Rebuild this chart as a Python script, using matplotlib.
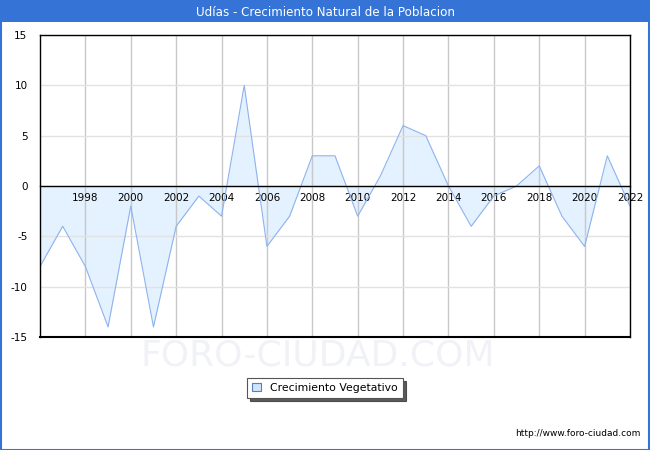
import numpy as np
import matplotlib.pyplot as plt
from matplotlib.patches import Rectangle, Patch

years = list(range(1996, 2023))
crecimiento = [-8, -4, -8, -14, -2, -14, -4, -1, -3, 10, -6, -3, 3, 3, -3, 1,
               6, 5, 0, -4, -1, 0, 2, -3, -6, 3, -2]
year_ticks = list(range(1998, 2023, 2))
y_ticks = [-15, -10, -5, 0, 5, 10, 15]

title = 'Udías - Crecimiento Natural de la Poblacion'
blue = '#3574d6'

plt.rcParams['axes.unicode_minus'] = False

fig = plt.figure(figsize=(6.5, 4.5), dpi=100)
fig.patch.set_facecolor('white')

# title bar and outer border
fig.patches.append(Rectangle((0, 428 / 450), 1, 22 / 450, transform=fig.transFigure,
                             facecolor=blue, edgecolor='none', zorder=0))
fig.patches.append(Rectangle((0.001, 0.001), 0.997, 0.997, transform=fig.transFigure,
                             facecolor='none', edgecolor=blue, lw=1.5, zorder=5))
fig.text(0.5, 438 / 450, title, ha='center', va='center', color='white',
         fontsize=8.6, family='DejaVu Sans')

# watermark
fig.text(318 / 650, 95 / 450, 'FORO-CIUDAD.COM', ha='center', va='center',
         fontsize=26, color='#f0f2f7', family='DejaVu Sans', zorder=0)

ax = fig.add_axes([40 / 650, 113 / 450, 590 / 650, 302 / 450])
ax.set_xlim(1996, 2022)
ax.set_ylim(-15, 15)

ax.fill_between(years, crecimiento, 0, color='#e4f1fe', lw=0, zorder=0.1)
ax.plot(years, crecimiento, color='#8db3ee', lw=0.8, zorder=2)

ax.set_xticks(year_ticks)
ax.set_yticks(y_ticks)
ax.grid(axis='x', color='#c8c8c8', lw=1)
ax.grid(axis='y', color='#e2e2e2', lw=1)
ax.set_axisbelow(True)

ax.spines['bottom'].set_position(('data', 0))
ax.spines['bottom'].set_zorder(3)
for s in ax.spines.values():
    s.set_linewidth(1)
ax.axhline(-15, color='black', lw=1.5, clip_on=False, zorder=4)

ax.tick_params(axis='x', length=0, pad=5, labelsize=7.5)
ax.tick_params(axis='y', length=0, pad=9, labelsize=7.5)

handle = Patch(facecolor='#cfe5fb', edgecolor='#5a7fb8', lw=0.8)
leg = fig.legend([handle], ['Crecimiento Vegetativo'], loc='center',
                 bbox_to_anchor=(325 / 650, 62 / 450), fontsize=7.8,
                 fancybox=False, shadow={'color': '#333333', 'alpha': 0.8},
                 edgecolor='#555555', framealpha=1, handlelength=0.8,
                 handleheight=0.8, borderpad=0.45, handletextpad=0.9)
leg.get_frame().set_linewidth(0.8)

fig.text(640 / 650, 16 / 450, 'http://www.foro-ciudad.com', ha='right',
         va='center', fontsize=6.5, color='black')

fig.savefig('out.png', dpi=100)
